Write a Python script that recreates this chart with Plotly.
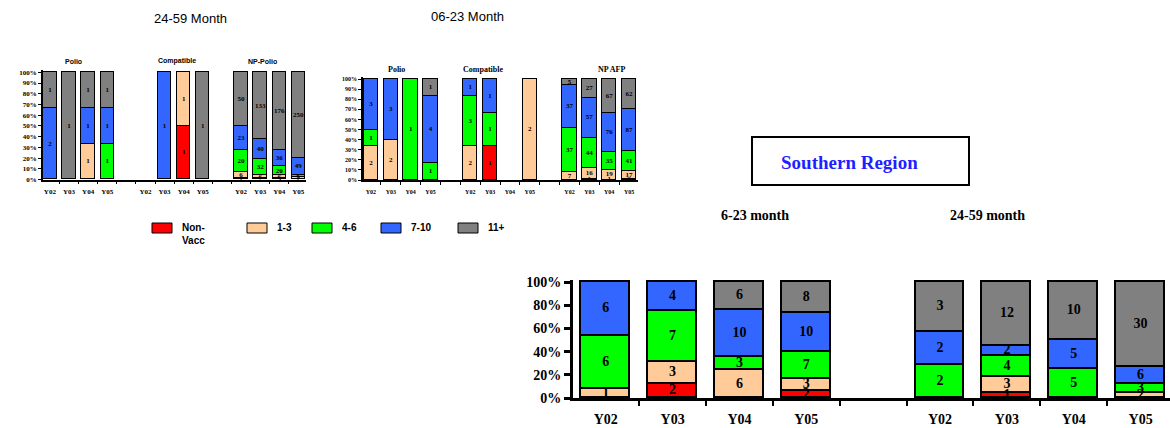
import plotly.graph_objects as go

W, H = 1170, 428
SERIF = "Liberation Serif"
SANS = "Liberation Sans"

years = ["Y02", "Y03", "Y04", "Y05"]
dose_names = ["Non-Vacc", "1-3", "4-6", "7-10", "11+"]
dose_colors = ["#FF0000", "#FFCC99", "#00FF00", "#3366FF", "#808080"]

# Chart 1: 24-59 Month  (groups: Polio | Compatible | NP-Polio), each Y02..Y05
c1_groups = ["Polio", "Compatible", "NP-Polio"]
c1_nonvacc = [0, 0, 0, 0,  0, 0, 1, 0,  1, 2, 3, 0]
c1_d13     = [0, 0, 1, 0,  0, 0, 1, 0,  6, 6, 6, 7]
c1_d46     = [0, 0, 0, 1,  0, 0, 0, 0,  20, 32, 20, 6]
c1_d710    = [2, 0, 1, 1,  0, 1, 0, 0,  23, 40, 36, 49]
c1_d11     = [1, 1, 1, 1,  0, 0, 0, 1,  50, 133, 176, 250]

# Chart 2: 06-23 Month  (groups: Polio | Compatible | NP AFP)
c2_groups = ["Polio", "Compatible", "NP AFP"]
c2_nonvacc = [0, 0, 0, 0,  0, 1, 0, 0,  0, 1, 1, 2]
c2_d13     = [2, 2, 0, 0,  2, 0, 0, 2,  7, 16, 19, 17]
c2_d46     = [1, 0, 1, 1,  3, 1, 0, 0,  37, 44, 35, 41]
c2_d710    = [3, 3, 0, 4,  1, 1, 0, 0,  37, 57, 76, 87]
c2_d11     = [0, 0, 0, 1,  0, 0, 0, 0,  5, 27, 67, 62]

# Chart 3: Southern Region  (groups: 6-23 month | 24-59 month)
c3_groups = ["6-23 month", "24-59 month"]
c3_nonvacc = [0, 2, 0, 2,  0, 1, 0, 0]
c3_d13     = [1, 3, 6, 3,  0, 3, 0, 2]
c3_d46     = [6, 7, 3, 7,  2, 4, 5, 3]
c3_d710    = [6, 4, 10, 10,  2, 2, 5, 6]
c3_d11     = [0, 0, 6, 8,  3, 12, 10, 30]


def px(x):
    return x / W


def py(y):
    return 1 - y / H


fig = go.Figure()


def add_chart(groups, series, xa, ya, width, line_w, label_size):
    slots = [g * 5 + i for g in range(len(groups)) for i in range(4)]
    n = len(slots)
    totals = [sum(s[k] for s in series) for k in range(n)]
    pct = [[(s[k] / totals[k] * 100 if totals[k] else 0) for k in range(n)] for s in series]
    for j, s in enumerate(series):
        fig.add_trace(go.Bar(
            x=slots, y=[p if p > 0 else None for p in pct[j]], width=width,
            marker=dict(color=dose_colors[j], line=dict(color="black", width=line_w)),
            cliponaxis=False,
            name=dose_names[j], xaxis=xa, yaxis=ya, showlegend=False, hoverinfo="skip"))
    lx, ly, lt = [], [], []
    base = [0.0] * n
    for j, s in enumerate(series):
        for k in range(n):
            if s[k] > 0:
                lx.append(slots[k])
                ly.append(base[k] + pct[j][k] / 2)
                lt.append(str(s[k]))
            base[k] += pct[j][k]
    fig.add_trace(go.Scatter(
        x=lx, y=ly, text=lt, mode="text", cliponaxis=False,
        textfont=dict(family=SERIF, size=label_size, color="black", weight="bold"),
        xaxis=xa, yaxis=ya, showlegend=False, hoverinfo="skip"))
    return slots


s1 = add_chart(c1_groups, [c1_nonvacc, c1_d13, c1_d46, c1_d710, c1_d11], "x", "y", 0.7, 1.1, 7)
s2 = add_chart(c2_groups, [c2_nonvacc, c2_d13, c2_d46, c2_d710, c2_d11], "x2", "y2", 0.73, 1.1, 7)
s3 = add_chart(c3_groups, [c3_nonvacc, c3_d13, c3_d46, c3_d710, c3_d11], "x3", "y3", 0.73, 1.8, 14)


def xaxis_cfg(domain, rng, slots, ngroups, fsize, lw, tlen, mlen, mw):
    bounds = [g * 5 + i - 0.5 for g in range(ngroups) for i in range(5)]
    return dict(domain=domain, range=rng, showline=True, linecolor="black", linewidth=lw,
                tickmode="array", tickvals=slots, ticktext=years * ngroups,
                ticks="outside", ticklen=tlen, tickcolor="rgba(0,0,0,0)",
                tickfont=dict(family=SERIF, size=fsize, color="black", weight="bold"),
                minor=dict(tickmode="array", tickvals=bounds, ticks="outside", ticklen=mlen,
                           tickwidth=mw, tickcolor="black"),
                automargin=False, showgrid=False, zeroline=False, fixedrange=True)


def yaxis_cfg(y0, y100, anchor, dt, fsize, lw, tlen, tw):
    # extend range 2% above 100 so top outlines are visible; keep 0..100 pixel mapping
    top = y100 - (y0 - y100) * 0.02
    return dict(domain=[py(y0), py(top)], range=[0, 102], anchor=anchor, showline=True,
                linecolor="black",
                linewidth=lw, tickmode="array", tickvals=list(range(0, 101, dt)),
                ticktext=[f"{v}%" for v in range(0, 101, dt)],
                ticks="outside", ticklen=tlen, tickwidth=tw, tickcolor="black",
                tickfont=dict(family=SERIF, size=fsize, color="black", weight="bold"),
                automargin=False, showgrid=False, zeroline=False, fixedrange=True)


fig.update_layout(
    template="none",
    width=W, height=H, margin=dict(l=0, r=0, t=0, b=0, pad=0, autoexpand=False),
    paper_bgcolor="white", plot_bgcolor="white",
    barmode="stack", bargap=0, showlegend=False,
    xaxis=dict(anchor="y", **xaxis_cfg([px(43), px(306)], [-0.36, 13.4], s1, 3, 7, 1.5, 4, 3, 1)),
    yaxis=yaxis_cfg(179.5, 72.3, "x", 10, 7, 1.5, 3, 1),
    xaxis2=dict(anchor="y2", **xaxis_cfg([px(363), px(638)], [-0.4, 13.45], s2, 3, 6, 1.5, 5, 3, 1)),
    yaxis2=yaxis_cfg(180, 79, "x2", 10, 6, 1.5, 3, 1),
    xaxis3=dict(anchor="y3", **xaxis_cfg([px(573), px(1170)], [-0.49, 8.44], s3, 2, 14, 3, 6, 5, 2)),
    yaxis3=yaxis_cfg(398, 282, "x3", 20, 14, 3, 6, 3),
)

ann = []


def text(x, y, t, size, family, color="black", bold=True, xanchor="center"):
    ann.append(dict(x=px(x), y=py(y), xref="paper", yref="paper", text=t, showarrow=False,
                    xanchor=xanchor, yanchor="middle",
                    font=dict(family=family, size=size, color=color,
                              weight="bold" if bold else "normal")))


# Titles
text(190, 19, "24-59 Month", 13, SANS, bold=False)
text(467, 16, "06-23 Month", 13, SANS, bold=False)
# Group titles chart 1
for t, x in zip(c1_groups, [73, 177, 262]):
    text(x, 61, t, 7, SANS)
# Group titles chart 2
for t, x in zip(c2_groups, [396, 483, 611]):
    text(x, 69, t, 8, SERIF)
# Chart 3 headings
text(849, 162, "Southern Region", 19, SERIF, color="#1F1FFF")
for t, x in zip(c3_groups, [755, 987]):
    text(x, 216, t, 14, SERIF)

shapes = [dict(type="rect", xref="paper", yref="paper", x0=px(752), x1=px(969),
               y0=py(185), y1=py(137), line=dict(color="black", width=2), fillcolor="white",
               layer="below")]

# Legend (drawn as boxes + text)
leg_box_x = [152, 247, 312, 381, 458]
leg_txt = ["Non-<br>Vacc", "1-3", "4-6", "7-10", "11+"]
for j, bx in enumerate(leg_box_x):
    shapes.append(dict(type="rect", xref="paper", yref="paper", x0=px(bx), x1=px(bx + 20),
                       y0=py(233), y1=py(223), fillcolor=dose_colors[j],
                       line=dict(color="black", width=1)))
    ty = 234 if j == 0 else 228
    text(bx + 28, ty, leg_txt[j], 10, SANS, xanchor="left")

fig.update_layout(annotations=ann, shapes=shapes)
fig.write_html("out.html", config={"displayModeBar": False},
               post_script="document.body.style.margin='0';document.body.style.padding='0';")
